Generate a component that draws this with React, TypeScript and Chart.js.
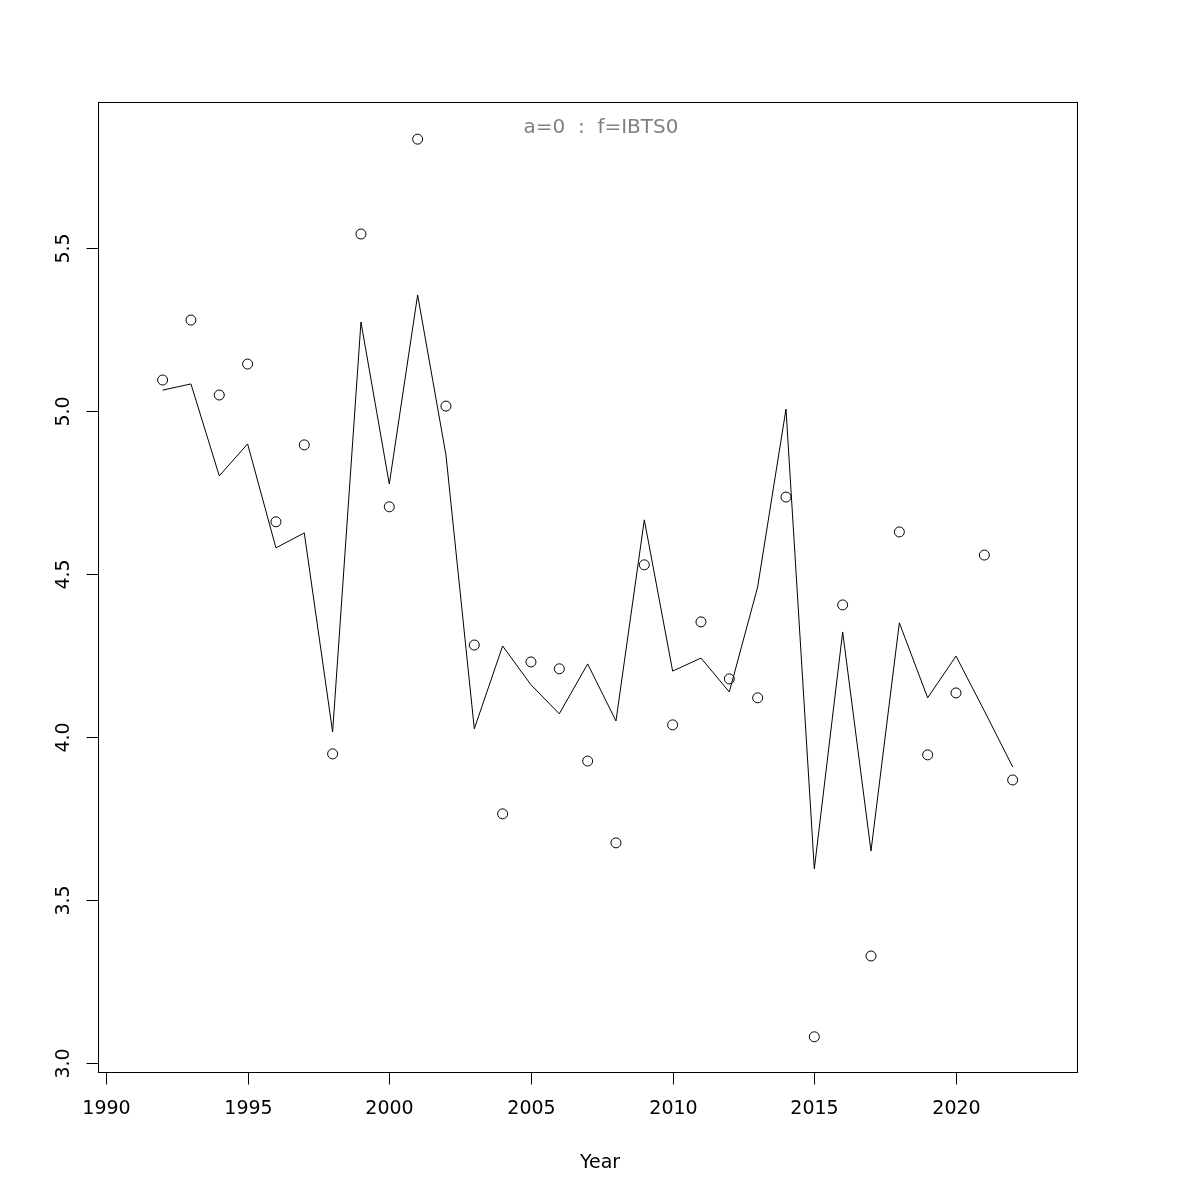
import React, { useEffect, useRef } from "react";
import { Chart, registerables } from "chart.js";

Chart.register(...registerables);

const years = [1992, 1993, 1994, 1995, 1996, 1997, 1998, 1999, 2000, 2001, 2002, 2003, 2004, 2005, 2006, 2007, 2008, 2009, 2010, 2011, 2012, 2013, 2014, 2015, 2016, 2017, 2018, 2019, 2020, 2021, 2022];
const observed = [5.095, 5.279, 5.049, 5.144, 4.660, 4.896, 3.948, 5.543, 4.706, 5.834, 5.015, 4.282, 3.764, 4.230, 4.209, 3.926, 3.675, 4.528, 4.037, 4.353, 4.178, 4.120, 4.736, 3.080, 4.405, 3.328, 4.629, 3.945, 4.135, 4.558, 3.868];
const fitted = [5.064, 5.083, 4.801, 4.899, 4.580, 4.626, 4.015, 5.273, 4.776, 5.356, 4.865, 4.025, 4.279, 4.160, 4.071, 4.224, 4.049, 4.666, 4.202, 4.242, 4.138, 4.460, 5.006, 3.595, 4.322, 3.650, 4.350, 4.120, 4.248, 4.080, 3.908];
const xTicks = [1990, 1995, 2000, 2005, 2010, 2015, 2020];
const yTicks = [3.0, 3.5, 4.0, 4.5, 5.0, 5.5];
const titleText = "a=0  :  f=IBTS0";
const xLabel = "Year";

const FONT = "'DejaVu Sans', sans-serif";

const axesPlugin = {
  id: "rAxes",
  afterDraw(chart: any) {
    const ctx = chart.ctx;
    const { left, right, top, bottom } = chart.chartArea;
    const xs = chart.scales.x;
    const ys = chart.scales.y;
    ctx.save();
    ctx.strokeStyle = "#000";
    ctx.lineWidth = 1;
    ctx.strokeRect(Math.round(left) + 0.5, Math.round(top) + 0.5, Math.round(right - left), Math.round(bottom - top));
    const by = Math.round(bottom) + 0.5;
    const x0 = xs.getPixelForValue(xTicks[0]);
    const x1 = xs.getPixelForValue(xTicks[xTicks.length - 1]);
    ctx.beginPath();
    ctx.moveTo(x0, by);
    ctx.lineTo(x1, by);
    ctx.stroke();
    ctx.font = `19px ${FONT}`;
    ctx.fillStyle = "#000";
    ctx.textAlign = "center";
    ctx.textBaseline = "middle";
    for (const t of xTicks) {
      const px = Math.round(xs.getPixelForValue(t)) + 0.5;
      ctx.beginPath();
      ctx.moveTo(px, by);
      ctx.lineTo(px, by + 12);
      ctx.stroke();
      ctx.fillText(String(t), px, 1109);
    }
    const lx = Math.round(left) + 0.5;
    const ya = ys.getPixelForValue(yTicks[0]);
    const yb = ys.getPixelForValue(yTicks[yTicks.length - 1]);
    ctx.beginPath();
    ctx.moveTo(lx, ya);
    ctx.lineTo(lx, yb);
    ctx.stroke();
    for (const t of yTicks) {
      const py = Math.round(ys.getPixelForValue(t)) + 0.5;
      ctx.beginPath();
      ctx.moveTo(lx, py);
      ctx.lineTo(lx - 12, py);
      ctx.stroke();
      ctx.save();
      ctx.translate(64, py);
      ctx.rotate(-Math.PI / 2);
      ctx.fillText(t.toFixed(1), 0, 0);
      ctx.restore();
    }
    ctx.fillStyle = "#808080";
    ctx.font = `20px ${FONT}`;
    ctx.fillText(titleText, 601, 128);
    ctx.fillStyle = "#000";
    ctx.font = `19px ${FONT}`;
    ctx.fillText(xLabel, 600, 1163);
    ctx.restore();
  },
};

export default function App() {
  const ref = useRef<HTMLCanvasElement | null>(null);
  useEffect(() => {
    document.body.style.margin = "0";
    const canvas = ref.current!;
    const chart = new Chart(canvas, {
      type: "scatter",
      data: {
        datasets: [
          {
            type: "scatter",
            data: years.map((y, i) => ({ x: y, y: observed[i] })),
            borderColor: "#000",
            backgroundColor: "rgba(0,0,0,0)",
            pointRadius: 5,
            pointBorderWidth: 1,
            showLine: false,
          },
          {
            type: "line",
            data: years.map((y, i) => ({ x: y, y: fitted[i] })),
            borderColor: "#000",
            borderWidth: 1,
            pointRadius: 0,
            fill: false,
            tension: 0,
          } as any,
        ],
      },
      options: {
        animation: false,
        responsive: false,
        devicePixelRatio: 1,
        layout: { padding: { left: 98, top: 102, right: 123, bottom: 128 } },
        plugins: { legend: { display: false }, tooltip: { enabled: false }, title: { display: false } },
        scales: {
          x: { type: "linear", min: 1989.72, max: 2024.27, display: false },
          y: { type: "linear", min: 2.972, max: 5.948, display: false },
        },
      },
      plugins: [axesPlugin],
    });
    return () => chart.destroy();
  }, []);
  return (
    <div style={{ position: "absolute", left: 0, top: 0, width: 1200, height: 1200, background: "#fff" }}>
      <canvas ref={ref} width={1200} height={1200} style={{ width: 1200, height: 1200 }} />
    </div>
  );
}
